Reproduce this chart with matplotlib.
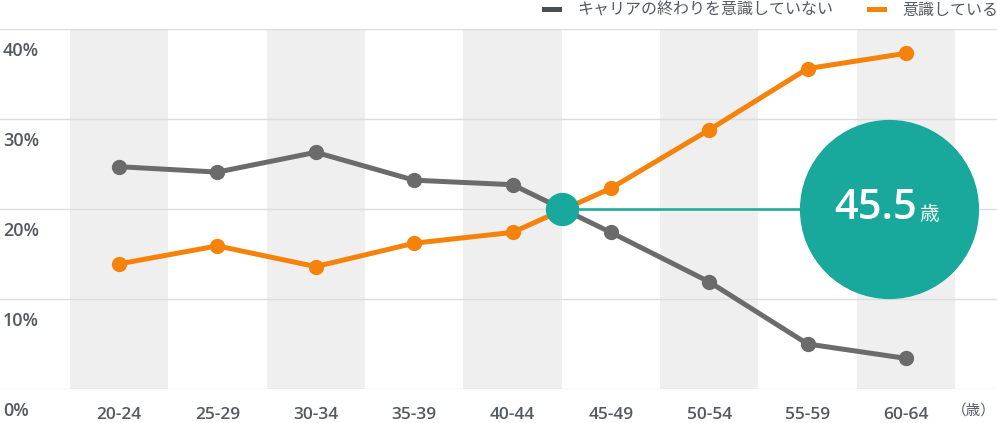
import numpy as np
import matplotlib
matplotlib.use("Agg")
import matplotlib.pyplot as plt
from matplotlib.patches import Rectangle

plt.rcParams['font.family'] = ['Open Sans', 'Noto Sans CJK JP', 'DejaVu Sans']

# data
age_groups = ["20-24", "25-29", "30-34", "35-39", "40-44",
              "45-49", "50-54", "55-59", "60-64"]
not_aware = [24.7, 24.1, 26.3, 23.2, 22.7, 17.4, 11.9, 5.0, 3.4]
aware = [13.9, 15.9, 13.6, 16.2, 17.4, 22.3, 28.8, 35.6, 37.3]
y_ticks = [0, 10, 20, 30, 40]
y_labels = ["0%", "10%", "20%", "30%", "40%"]
cross_x = 4.5
cross_y = 20
cross_label = "45.5"
legend_labels = ["キャリアの終わりを意識していない", "意識している"]

GRAY = "#6b6b6b"
ORANGE = "#f5820a"
TEAL = "#18a89c"
BAND = "#efefef"
GRID = "#dcdcdc"
TXT = "#555a60"

W, H = 997, 423
fig = plt.figure(figsize=(W / 100, H / 100), dpi=100)
ax = fig.add_axes([0, (H - 389) / H, 1, 360 / H])

step = 98.375
x = np.arange(len(age_groups))
ax.set_xlim(-119 / step, (W - 119) / step)
ax.set_ylim(0, 40)

for i in x[::2]:
    ax.axvspan(i - 0.5, i + 0.5, color=BAND, zorder=0, lw=0)
for t in y_ticks:
    ax.axhline(t, color=GRID, lw=1, zorder=1)

for s in ax.spines.values():
    s.set_visible(False)
ax.set_xticks([])
ax.set_yticks([])

ax.plot(x, not_aware, color=GRAY, lw=3.6, marker="o", ms=10, zorder=3)
ax.plot(x, aware, color=ORANGE, lw=3.6, marker="o", ms=10, zorder=3)

# crossing marker and callout
big_x = (889 - 119) / step
ax.plot([cross_x, big_x], [cross_y, cross_y], color=TEAL, lw=1.8, zorder=4)
ax.plot([cross_x], [cross_y], marker="o", ms=23, color=TEAL, zorder=5)
ax.plot([big_x], [cross_y], marker="o", ms=128, color=TEAL, zorder=5)
ax.annotate(cross_label, (big_x, cross_y), xytext=(20.5, 1), textcoords="offset points",
            ha="right", va="center", color="white", fontsize=30,
            fontweight="semibold", zorder=6)
ax.annotate("歳", (big_x, cross_y), xytext=(21.5, -3.6), textcoords="offset points",
            ha="left", va="center", color="white", fontsize=14,
            family=['Noto Sans CJK JP'], zorder=6)

# y labels (below each grid line)
for t, lab in zip(y_ticks, y_labels):
    ax.annotate(lab, (0, t), xycoords=("figure fraction", "data"),
                xytext=(2, -16), textcoords="offset points",
                ha="left", va="center", fontsize=13, color=TXT,
                fontweight="semibold")

# x labels
for i, lab in zip(x, age_groups):
    ax.annotate(lab, (i, 0), xytext=(0, -19), textcoords="offset points",
                ha="center", va="center", fontsize=12.5, color=TXT,
                fontweight="semibold")
fig.text(974 / W, 1 - 411 / H, "（歳）", ha="center", va="center",
         fontsize=10.5, color=TXT, family=['Noto Sans CJK JP'])

# legend
fig.add_artist(Rectangle((542 / W, 1 - 12.5 / H), 20 / W, 5 / H,
                         transform=fig.transFigure, color="#4a4f55", lw=0))
fig.text(577 / W, 1 - 10 / H, legend_labels[0], ha="left", va="center",
         fontsize=11.5, color=TXT, family=['Noto Sans CJK JP'])
fig.add_artist(Rectangle((867 / W, 1 - 12.5 / H), 20 / W, 5 / H,
                         transform=fig.transFigure, color=ORANGE, lw=0))
fig.text(902 / W, 1 - 10 / H, legend_labels[1], ha="left", va="center",
         fontsize=11.5, color=TXT, family=['Noto Sans CJK JP'])

fig.savefig("out.png", dpi=100)
